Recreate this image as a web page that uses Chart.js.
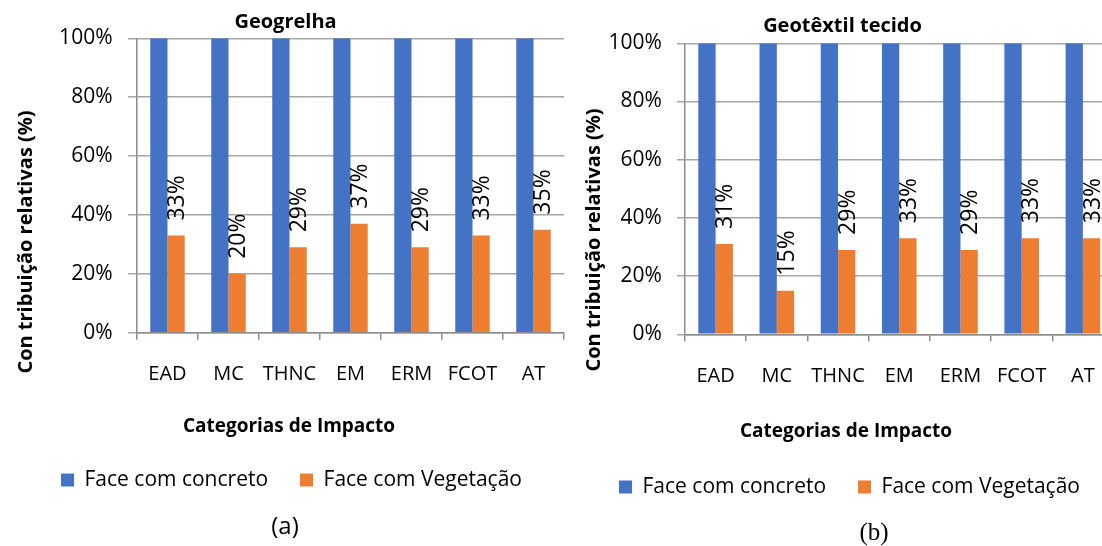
<!DOCTYPE html>
<html><head><meta charset="utf-8">
<script src="https://cdn.jsdelivr.net/npm/chart.js@4.4.1/dist/chart.umd.min.js"></script>
<style>
html,body{margin:0;padding:0;background:#fff;overflow:hidden;width:1102px;height:546px;position:relative;}
#wrapA{position:absolute;left:0;top:0;}
#wrapB{position:absolute;left:560px;top:0;}
canvas{display:block;}
</style></head>
<body>
<div id="wrapA"><canvas id="chartA" width="570" height="546"></canvas></div>
<div id="wrapB"><canvas id="chartB" width="560" height="546"></canvas></div>
<script>
// ---- data ----
const categories = ['EAD', 'MC', 'THNC', 'EM', 'ERM', 'FCOT', 'AT'];
const seriesNames = ['Face com concreto', 'Face com Vegetação'];
const geogrelhaConcreto = [100, 100, 100, 100, 100, 100, 100];
const geogrelhaVegetacao = [33, 20, 29, 37, 29, 33, 35];
const geotextilConcreto = [100, 100, 100, 100, 100, 100, 100];
const geotextilVegetacao = [31, 15, 29, 33, 29, 33, 33];
const yTickValues = [0, 20, 40, 60, 80, 100];
const chartTitles = ['Geogrelha', 'Geotêxtil tecido'];
const panelLabels = ['(a)', '(b)'];
const xAxisTitle = 'Categorias de Impacto';
const yAxisTitle = 'Con tribuição relativas (%)';

// ---- styles ----
const BLUE = '#4472C4', ORANGE = '#ED7D31';
const GRID = '#A6A6A6', AXIS = '#8C8C8C';
const FONT = "'Open Sans', sans-serif";
Chart.defaults.font.family = FONT;
Chart.defaults.color = '#000';

function makeTextPlugin(items) {
  return {
    id: 'panelText',
    afterDraw(chart) {
      const ctx = chart.ctx;
      items.forEach(it => {
        ctx.save();
        ctx.font = it.font;
        ctx.fillStyle = '#000';
        ctx.textAlign = 'center';
        ctx.textBaseline = 'middle';
        ctx.translate(it.x, it.y);
        if (it.rot) ctx.rotate(it.rot);
        ctx.fillText(it.text, 0, 0);
        ctx.restore();
      });
    }
  };
}

const barLabels = {
  id: 'barLabels',
  afterDatasetsDraw(chart) {
    const ctx = chart.ctx;
    const dsIndex = 1;
    const meta = chart.getDatasetMeta(dsIndex);
    const ds = chart.data.datasets[dsIndex];
    ctx.save();
    ctx.font = "23px " + FONT;
    ctx.fillStyle = '#000';
    ctx.textAlign = 'left';
    ctx.textBaseline = 'middle';
    meta.data.forEach((bar, i) => {
      ctx.save();
      ctx.translate(bar.x + 1.5, bar.y - 15);
      ctx.rotate(-Math.PI / 2);
      ctx.fillText(ds.data[i] + '%', 0, 0);
      ctx.restore();
    });
    ctx.restore();
  }
};

function buildChart(canvasId, concreto, vegetacao, g, texts) {
  return new Chart(document.getElementById(canvasId), {
    type: 'bar',
    data: {
      labels: categories,
      datasets: [
        { label: seriesNames[0], data: concreto, backgroundColor: BLUE, borderWidth: 0 },
        { label: seriesNames[1], data: vegetacao, backgroundColor: ORANGE, borderWidth: 0 }
      ]
    },
    options: {
      responsive: false,
      animation: false,
      devicePixelRatio: 1,
      categoryPercentage: 0.565,
      barPercentage: 1.0,
      layout: { padding: { left: g.L, right: g.R, top: g.top, bottom: g.bottom } },
      plugins: {
        title: { display: false },
        tooltip: { enabled: false },
        legend: {
          position: 'bottom',
          labels: { boxWidth: 13, boxHeight: 13, padding: 32, font: { size: 21, family: FONT }, color: '#000' }
        }
      },
      scales: {
        x: {
          grid: { drawOnChartArea: false, drawTicks: true, tickLength: 7, offset: true, color: AXIS, lineWidth: 1.5 },
          border: { display: true, color: AXIS, width: 1.5 },
          ticks: { font: { size: 20, family: FONT }, color: '#000', padding: g.xPad, maxRotation: 0, autoSkip: false },
          afterFit: s => { s.height = g.xH; }
        },
        y: {
          min: 0, max: 100,
          afterBuildTicks: s => { s.ticks = yTickValues.map(v => ({ value: v })); },
          grid: { color: GRID, lineWidth: 1.5, drawTicks: true, tickLength: g.tl },
          border: { display: true, color: AXIS, width: 1.5 },
          ticks: { font: { size: 21, family: FONT }, color: '#000', padding: g.yPad, callback: v => v + '%' },
          afterFit: s => { s.width = g.yW; }
        }
      }
    },
    plugins: [barLabels, makeTextPlugin(texts)]
  });
}

buildChart('chartA', geogrelhaConcreto, geogrelhaVegetacao,
  { L: 19, R: 6, top: 38.3, bottom: 45.5, xH: 104.8, xPad: 22.5, yW: 118, tl: 9, yPad: 15.5 },
  [
    { text: chartTitles[0], x: 285.5, y: 22, font: "bold 20px " + FONT },
    { text: yAxisTitle, x: 26, y: 242, rot: -Math.PI / 2, font: "bold 20px " + FONT },
    { text: xAxisTitle, x: 289, y: 427, font: "bold 19px " + FONT },
    { text: panelLabels[0], x: 285, y: 527, font: "24px " + FONT }
  ]);

buildChart('chartB', geotextilConcreto, geotextilVegetacao,
  { L: 25.5, R: 6.5, top: 43.3, bottom: 38.5, xH: 110.2, xPad: 22.5, yW: 99.5, tl: 8, yPad: 15.2 },
  [
    { text: chartTitles[1], x: 282.5, y: 26.7, font: "bold 20px " + FONT },
    { text: yAxisTitle, x: 34, y: 240, rot: -Math.PI / 2, font: "bold 20px " + FONT },
    { text: xAxisTitle, x: 286, y: 432, font: "bold 19px " + FONT },
    { text: panelLabels[1], x: 314, y: 533, font: "25px 'Liberation Serif', serif" }
  ]);
</script>
</body></html>
